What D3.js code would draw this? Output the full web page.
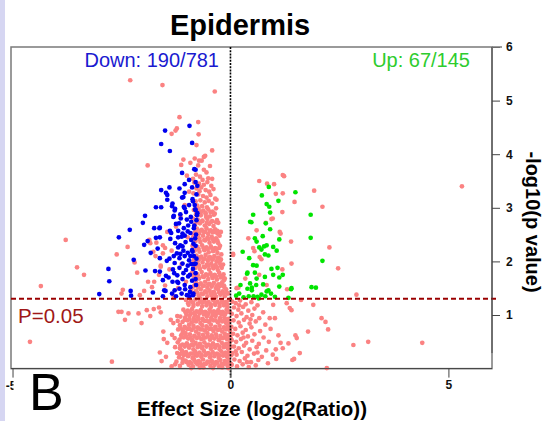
<!DOCTYPE html>
<html>
<head>
<meta charset="utf-8">
<script src="https://cdn.jsdelivr.net/npm/d3@7"></script>
<style>
  html, body { margin: 0; padding: 0; background: #fff; }
  svg { display: block; font-family: "Liberation Sans", Arial, sans-serif; }
</style>
</head>
<body>
<svg id="chart" width="543" height="421"></svg>
<script>
// Volcano plot: effect size (log2 ratio) against -log10(p value)

const chartTitle = "Epidermis";
const xLabel = "Effect Size (log2(Ratio))";
const yLabel = "-log10(p value)";
const downLabel = "Down: 190/781";
const upLabel = "Up: 67/145";
const thresholdLabel = "P=0.05";
const panelLetter = "B";

const xTicks = [-5, 0, 5];
const yTicks = [1, 2, 3, 4, 5, 6];
const pThreshold = 0.05;

// [effect size, -log10 p] for genes significantly down-regulated
const downGenes = [
  [-1.50,4.44],[-0.94,4.53],[-1.59,4.19],[-0.88,4.21],[-1.39,4.06],[-0.83,3.72],[-0.80,3.71],[-1.11,3.65],
  [-0.80,3.48],[-1.05,3.44],[-0.95,3.52],[-0.76,3.41],[-1.40,3.38],[-1.59,3.33],[-1.48,3.28],[-1.45,3.24],
  [-1.17,3.36],[-1.11,3.19],[-1.08,3.20],[-0.87,3.16],[-1.33,3.08],[-1.34,3.03],[-1.71,3.01],[-1.59,3.01],
  [-1.27,2.98],[-1.07,3.02],[-1.05,2.99],[-0.82,3.05],[-0.81,2.97],[-0.76,2.90],[-1.96,2.85],[-2.01,2.72],
  [-1.31,2.83],[-1.30,2.85],[-1.14,2.80],[-0.91,2.83],[-0.78,2.77],[-1.18,2.71],[-1.07,2.62],[-0.97,2.67],
  [-0.84,2.62],[-2.31,2.59],[-1.63,2.62],[-1.62,2.63],[-1.39,2.57],[-1.36,2.53],[-1.20,2.57],[-1.12,2.46],
  [-1.05,2.48],[-0.92,2.53],[-0.81,2.43],[-2.56,2.45],[-1.90,2.38],[-1.71,2.44],[-1.98,2.31],[-1.67,2.24],
  [-1.27,2.34],[-1.20,2.26],[-1.23,2.15],[-1.10,2.28],[-1.08,2.20],[-0.98,2.16],[-0.88,2.21],[-0.80,2.29],
  [-1.83,2.16],[-1.62,2.06],[-1.17,2.06],[-0.92,2.10],[-0.84,2.10],[-2.22,2.03],[-1.46,2.01],[-1.28,1.97],
  [-1.10,1.96],[-0.98,1.92],[-0.90,1.95],[-0.80,1.96],[-2.80,1.86],[-1.95,1.83],[-1.73,1.82],[-1.62,1.81],
  [-1.29,1.78],[-1.22,1.74],[-1.08,1.78],[-0.93,1.75],[-0.80,1.78],[-2.78,1.63],[-1.48,1.73],[-1.22,1.62],
  [-1.10,1.67],[-0.88,1.64],[-0.80,1.67],[-2.29,1.45],[-1.78,1.42],[-1.52,1.46],[-1.49,1.45],[-1.34,1.40],
  [-1.28,1.46],[-1.17,1.49],[-1.04,1.48],[-0.93,1.43],[-3.01,1.39],[-2.28,1.36],[-1.55,1.35],[-0.94,1.35],
  [-0.86,1.37],
  [-0.78,3.25],[-0.86,3.12],[-0.95,3.05],[-1.02,2.92],[-0.77,2.86],[-0.90,2.74],[-1.15,2.88],[-0.83,2.67],
  [-0.98,2.56],[-1.25,2.70],[-0.79,2.50],[-0.90,2.40],[-1.03,2.36],[-1.15,2.30],[-0.85,2.33],[-0.78,2.05],
  [-0.95,2.02],[-1.05,2.10],[-1.15,2.14],[-1.30,2.10],[-0.86,1.86],[-1.02,1.84],[-1.17,1.88],[-0.79,1.56],
  [-0.92,1.52],[-1.05,1.56],[-1.20,1.60],[-1.33,1.62],[-0.85,1.40],[-1.00,1.37],[-1.12,1.40],[-1.25,1.35],
  [-0.88,3.38],[-1.05,3.28],[-0.80,2.96],[-1.20,2.45],[-1.38,2.42],[-0.87,2.18],[-1.10,2.52],[-0.97,1.72],
  [-1.32,1.85],[-1.42,1.70],[-0.83,1.95],[-1.00,2.78],[-1.28,2.95],[-1.45,3.15],[-1.40,2.05],[-1.55,1.65],
  [-1.62,2.45],[-1.75,2.62]
];

// [effect size, -log10 p] for genes significantly up-regulated
const upGenes = [
  [0.88,3.39],[1.49,3.29],[0.72,3.23],[1.10,3.13],[0.83,3.07],[0.89,3.02],[0.91,2.91],[0.52,2.87],
  [1.84,2.87],[0.45,2.74],[0.48,2.73],[0.81,2.71],[0.91,2.60],[1.84,2.44],[0.56,2.43],[0.74,2.47],
  [1.12,2.41],[0.60,2.37],[0.83,2.30],[0.66,2.26],[0.71,2.22],[0.77,2.28],[0.98,2.27],[0.28,2.18],
  [0.79,2.13],[0.87,2.11],[1.06,2.20],[0.43,2.06],[0.52,1.93],[0.60,1.92],[2.11,2.01],[0.94,1.86],
  [1.08,1.88],[0.39,1.79],[0.38,1.77],[0.56,1.79],[0.98,1.75],[1.20,1.75],[1.12,1.70],[0.79,1.71],
  [0.60,1.68],[0.45,1.59],[0.59,1.56],[0.23,1.56],[1.12,1.53],[1.40,1.50],[1.39,1.48],[1.86,1.52],
  [1.96,1.51],[0.39,1.49],[0.49,1.51],[0.83,1.44],[0.93,1.40],[0.71,1.38],[0.13,1.36],[0.42,1.35],
  [0.53,1.35],[0.62,1.34],[0.80,1.35],[1.33,1.32],[0.87,1.46],[0.49,1.46],[0.30,1.33],[0.65,1.31],
  [1.02,1.34],[0.20,1.40],[0.75,1.57]
];

// [effect size, -log10 p] for all remaining genes, down side
const otherDown = [
  [-2.30,5.38],[-1.56,5.29],[-0.36,5.17],[-1.17,4.69],[-1.23,4.48],[-1.26,4.44],[-1.35,4.38],[-0.74,4.60],
  [-0.73,4.37],[-0.78,4.17],[-0.42,4.07],[-1.90,3.79],[-1.13,3.80],[-0.92,3.84],[-0.72,3.88],[-0.61,3.95],
  [-3.78,2.40],[-3.52,1.89],[-3.36,1.75],[-2.36,2.27],[-2.61,2.13],[-2.20,1.98],[-1.86,2.40],[-1.84,2.34],
  [-2.14,1.79],[-2.47,1.47],[-2.50,1.40],[-2.08,1.37],[-1.98,1.45],[-1.89,1.62],[-1.80,1.52],[-1.75,1.62],
  [-1.64,1.75],[-1.60,1.92],[-1.72,2.10],[-1.77,2.18],[-1.70,2.35],[-1.55,2.15],[-1.50,2.25],
  [-0.42,3.54],[-0.32,3.15],[-0.22,2.55],[-0.15,1.65],[0.06,2.14],
  [-4.35,1.54],[-4.60,0.50],[-2.72,0.13],[-2.57,1.06],[-2.50,1.06],[-2.34,1.03],[-2.42,0.91],[-2.11,1.03],
  [-2.04,0.85],[-1.92,1.09],[-1.84,0.98],[-1.76,1.11],[-1.54,0.69],[-1.53,0.55],[-1.64,1.14],[-1.60,1.05],
  [-1.37,0.91],[-1.31,0.85],[-1.22,0.98],[-1.16,0.38],[-1.10,0.66],[-1.10,0.18],[-1.35,0.04],[-0.98,0.24],
  [-1.02,0.31],[-0.95,0.75],[-0.88,0.52],[-0.70,0.02],[-0.80,0.26],[-0.85,0.20],
  [-1.05,3.05],[-1.15,2.85],[-0.98,2.45],[-1.25,2.65],[-1.35,2.20],[-1.12,1.95],[-1.02,1.62],[-1.40,1.85],
  [-1.20,1.50],[-0.95,3.30],[-1.00,3.60],[-1.08,3.90],[-1.30,1.35],[-1.50,1.55],[-1.60,1.90],[-1.55,2.30],
  [-1.45,2.55],
  [-0.82,3.92],[-0.66,3.88],[-0.58,3.97],[-0.74,3.79],[-0.61,3.71],[-0.79,3.62],[-0.55,3.66],[-0.70,3.58],
  [-0.64,3.52],[-0.51,3.55],[-0.86,3.54],[-0.47,3.78],
  [-0.83,3.47],[-0.72,3.45],[-0.61,3.43],[-0.53,3.48],[-0.44,3.41],[-0.78,3.36],[-0.67,3.38],[-0.57,3.33],
  [-0.49,3.30],[-0.39,3.35],[-0.85,3.27],[-0.74,3.25],[-0.63,3.22],[-0.55,3.19],[-0.46,3.24],[-0.69,3.14],
  [-0.80,3.12],[-0.59,3.10],[-0.50,3.13],[-0.42,3.08],[-0.35,3.17],[-0.76,3.04],[-0.65,3.03],[-0.54,3.01],
  [-0.71,3.31],
  [-0.84,2.96],[-0.73,2.98],[-0.62,2.95],[-0.51,2.97],[-0.41,2.93],[-0.33,2.99],[-0.79,2.88],[-0.68,2.86],
  [-0.57,2.89],[-0.47,2.84],[-0.38,2.87],[-0.86,2.80],[-0.75,2.78],[-0.64,2.76],[-0.53,2.79],[-0.44,2.74],
  [-0.31,2.77],[-0.81,2.69],[-0.70,2.71],[-0.59,2.67],[-0.49,2.70],[-0.39,2.66],[-0.28,2.72],[-0.77,2.61],
  [-0.66,2.59],[-0.55,2.62],[-0.45,2.58],[-0.35,2.60],[-0.83,2.53],[-0.72,2.52],[-0.61,2.55],[-0.51,2.51],
  [-0.41,2.54],[-0.30,2.52],[-0.68,2.92],[-0.56,2.83],
  [-0.85,2.47],[-0.74,2.45],[-0.63,2.48],[-0.53,2.44],[-0.43,2.46],[-0.33,2.43],[-0.25,2.48],[-0.80,2.38],
  [-0.69,2.36],[-0.58,2.39],[-0.48,2.35],[-0.38,2.37],[-0.28,2.34],[-0.87,2.29],[-0.76,2.27],[-0.65,2.30],
  [-0.55,2.26],[-0.45,2.28],[-0.35,2.25],[-0.24,2.29],[-0.82,2.20],[-0.71,2.18],[-0.60,2.21],[-0.50,2.17],
  [-0.40,2.19],[-0.30,2.16],[-0.78,2.11],[-0.67,2.09],[-0.57,2.12],[-0.47,2.08],[-0.37,2.10],[-0.27,2.07],
  [-0.21,2.13],[-0.84,2.03],[-0.73,2.02],[-0.62,2.04],[-0.52,2.01],[-0.42,2.03],[-0.32,2.00],[-0.23,2.02],
  [-0.86,1.97],[-0.75,1.95],[-0.64,1.98],[-0.54,1.94],[-0.44,1.96],[-0.34,1.93],[-0.25,1.97],[-0.17,1.94],
  [-0.80,1.88],[-0.70,1.86],[-0.59,1.89],[-0.49,1.85],[-0.39,1.87],[-0.29,1.84],[-0.20,1.88],[-0.88,1.79],
  [-0.77,1.77],[-0.66,1.80],[-0.56,1.76],[-0.46,1.78],[-0.36,1.75],[-0.26,1.79],[-0.16,1.76],[-0.83,1.70],
  [-0.72,1.68],[-0.61,1.71],[-0.51,1.67],[-0.41,1.69],[-0.31,1.66],[-0.22,1.70],[-0.13,1.68],[-0.79,1.61],
  [-0.68,1.59],[-0.58,1.62],[-0.48,1.58],[-0.38,1.60],[-0.28,1.57],[-0.19,1.61],[-0.85,1.53],[-0.74,1.52],
  [-0.63,1.54],[-0.53,1.51],[-0.43,1.53],[-0.33,1.50],[-0.24,1.54],[-0.14,1.52],
  [-0.90,1.47],[-0.79,1.45],[-0.68,1.48],[-0.58,1.44],[-0.48,1.46],[-0.38,1.43],[-0.28,1.47],[-0.18,1.44],
  [-0.10,1.48],[-0.84,1.38],[-0.73,1.36],[-0.63,1.39],[-0.53,1.35],[-0.43,1.37],[-0.33,1.34],[-0.23,1.38],
  [-0.13,1.35],[-0.95,1.32],[-0.69,1.31],[-0.41,1.31],[-0.06,1.40],
  [-1.02,1.28],[-0.91,1.26],[-0.80,1.29],[-0.70,1.25],[-0.60,1.27],[-0.50,1.24],[-0.40,1.28],[-0.30,1.25],
  [-0.20,1.27],[-0.11,1.24],[-0.04,1.28],[-0.96,1.19],[-0.85,1.17],[-0.75,1.20],[-0.65,1.16],[-0.55,1.18],
  [-0.45,1.15],[-0.35,1.19],[-0.25,1.16],[-0.15,1.18],[-0.07,1.15],[-1.08,1.10],[-0.98,1.08],[-0.88,1.11],
  [-0.78,1.07],[-0.68,1.09],[-0.58,1.06],[-0.48,1.10],[-0.38,1.07],[-0.28,1.09],[-0.18,1.06],[-0.09,1.10],
  [-0.02,1.07],[-1.01,1.01],[-0.91,1.02],[-0.81,1.00],[-0.71,1.03],[-0.61,1.01],[-0.51,1.02],[-0.41,1.00],
  [-0.31,1.03],[-0.21,1.01],[-0.12,1.02],
  [-1.15,0.97],[-1.04,0.95],[-0.94,0.98],[-0.84,0.94],[-0.74,0.96],[-0.64,0.93],[-0.54,0.97],[-0.44,0.95],
  [-0.34,0.98],[-0.24,0.94],[-0.14,0.96],[-0.05,0.93],
  [-1.21,0.89],[-1.10,0.87],[-0.99,0.90],[-0.89,0.86],[-0.79,0.88],[-0.69,0.85],[-0.59,0.89],[-0.49,0.87],
  [-0.39,0.90],[-0.29,0.86],[-0.19,0.88],[-0.10,0.85],[-0.02,0.89],
  [-1.16,0.81],[-1.05,0.78],[-0.95,0.82],[-0.85,0.80],[-0.75,0.77],[-0.65,0.81],[-0.55,0.79],
  [-0.45,0.82],[-0.35,0.78],[-0.25,0.80],[-0.15,0.77],[-0.06,0.81],
  [-1.20,0.73],[-1.09,0.70],[-0.99,0.74],[-0.89,0.72],[-0.79,0.69],[-0.69,0.73],[-0.59,0.71],
  [-0.49,0.74],[-0.39,0.70],[-0.29,0.72],[-0.19,0.69],[-0.10,0.73],[-0.01,0.71],
  [-1.34,0.63],[-1.13,0.62],[-1.03,0.66],[-0.93,0.64],[-0.83,0.61],[-0.73,0.65],[-0.63,0.63],
  [-0.53,0.66],[-0.43,0.62],[-0.33,0.64],[-0.23,0.61],[-0.13,0.65],[-0.04,0.63],
  [-1.28,0.57],[-1.17,0.54],[-1.07,0.58],[-0.97,0.56],[-0.87,0.53],[-0.77,0.57],[-0.67,0.55],
  [-0.57,0.58],[-0.47,0.54],[-0.37,0.56],[-0.27,0.53],[-0.17,0.57],[-0.08,0.55],[0.00,0.58],
  [-1.45,0.48],[-1.21,0.49],[-1.10,0.45],[-1.00,0.47],[-0.90,0.44],[-0.80,0.48],[-0.70,0.46],
  [-0.60,0.49],[-0.50,0.45],[-0.40,0.47],[-0.30,0.44],[-0.20,0.48],[-0.10,0.46],[-0.02,0.49],
  [-1.27,0.40],[-1.15,0.37],[-1.05,0.41],[-0.95,0.39],[-0.85,0.36],[-0.75,0.40],[-0.65,0.38],
  [-0.55,0.41],[-0.45,0.37],[-0.35,0.39],[-0.25,0.36],[-0.15,0.40],[-0.06,0.38],[0.01,0.41],
  [-1.62,0.30],[-1.22,0.29],[-1.11,0.33],[-0.91,0.28],[-0.81,0.32],[-0.71,0.30],[-0.61,0.33],
  [-0.51,0.29],[-0.41,0.31],[-0.31,0.28],[-0.21,0.32],[-0.11,0.30],[-0.03,0.33],
  [-1.48,0.22],[-1.18,0.21],[-1.07,0.25],[-0.97,0.23],[-0.87,0.20],[-0.77,0.24],[-0.67,0.22],
  [-0.57,0.25],[-0.47,0.21],[-0.37,0.23],[-0.27,0.20],[-0.17,0.24],[-0.08,0.22],[0.02,0.25],
  [-1.58,0.14],[-1.24,0.13],[-1.03,0.15],[-0.93,0.12],[-0.83,0.16],[-0.73,0.14],[-0.63,0.17],
  [-0.53,0.13],[-0.43,0.15],[-0.33,0.12],[-0.23,0.16],[-0.13,0.14],[-0.04,0.17],
  [-1.27,0.08],[-1.16,0.05],[-0.96,0.07],[-0.86,0.04],[-0.76,0.08],[-0.66,0.06],[-0.56,0.09],
  [-0.46,0.05],[-0.36,0.07],[-0.26,0.04],[-0.16,0.08],[-0.07,0.06],[0.01,0.09],
  [-0.90,0.01],[-0.62,0.02],[-0.40,0.01],[-0.19,0.02],[-0.05,0.01]
];

// further genes packed into the dense core of the down side
const otherDownCore = [
  [-0.78,2.91],[-0.67,2.93],[-0.57,2.90],[-0.46,2.92],[-0.36,2.89],
  [-0.78,2.74],[-0.65,2.75],[-0.54,2.72],[-0.42,2.75],[-0.33,2.73],
  [-0.80,2.56],[-0.69,2.57],[-0.58,2.55],[-0.48,2.57],[-0.38,2.55],[-0.30,2.57],
  [-0.82,2.41],[-0.71,2.42],[-0.60,2.40],[-0.50,2.42],[-0.40,2.41],[-0.30,2.39],
  [-0.84,2.24],[-0.73,2.23],[-0.62,2.25],[-0.52,2.23],[-0.42,2.24],[-0.32,2.22],[-0.26,2.25],
  [-0.81,2.06],[-0.70,2.07],[-0.59,2.05],[-0.49,2.07],[-0.39,2.05],[-0.29,2.06],[-0.22,2.04],
  [-0.83,1.91],[-0.72,1.92],[-0.61,1.90],[-0.51,1.92],[-0.41,1.91],[-0.31,1.89],[-0.22,1.92],
  [-0.85,1.73],[-0.75,1.74],[-0.64,1.72],[-0.53,1.74],[-0.43,1.73],[-0.33,1.71],[-0.24,1.74],[-0.17,1.72],
  [-0.82,1.56],[-0.71,1.57],[-0.61,1.55],[-0.51,1.57],[-0.41,1.56],[-0.31,1.54],[-0.22,1.57],[-0.15,1.55],
  [-0.87,1.41],[-0.76,1.42],[-0.66,1.40],[-0.56,1.42],[-0.46,1.41],[-0.36,1.39],[-0.26,1.42],[-0.16,1.40],[-0.08,1.42],
  [-0.97,1.22],[-0.86,1.23],[-0.75,1.21],[-0.65,1.23],[-0.55,1.22],[-0.45,1.20],[-0.35,1.23],[-0.25,1.21],[-0.16,1.22],[-0.07,1.20],
  [-1.03,1.05],[-0.93,1.06],[-0.83,1.04],[-0.73,1.06],[-0.63,1.05],[-0.53,1.03],[-0.43,1.06],[-0.33,1.04],[-0.23,1.05],[-0.14,1.03],[-0.05,1.06],
  [-1.05,0.91],[-0.94,0.92],[-0.84,0.90],[-0.74,0.92],[-0.64,0.91],[-0.54,0.89],[-0.44,0.92],[-0.34,0.90],[-0.24,0.91],[-0.14,0.89],[-0.06,0.92],
  [-1.14,0.75],[-1.04,0.76],[-0.94,0.74],[-0.84,0.76],[-0.74,0.75],[-0.64,0.73],[-0.54,0.76],[-0.44,0.74],[-0.34,0.75],[-0.24,0.73],[-0.14,0.76],[-0.05,0.74],
  [-1.12,0.59],[-1.02,0.60],[-0.92,0.58],[-0.82,0.60],[-0.72,0.59],[-0.62,0.57],[-0.52,0.60],[-0.42,0.58],[-0.32,0.59],[-0.22,0.57],[-0.12,0.60],[-0.03,0.58],
  [-1.15,0.43],[-1.05,0.44],[-0.95,0.42],[-0.85,0.44],[-0.75,0.43],[-0.65,0.41],[-0.55,0.44],[-0.45,0.42],[-0.35,0.43],[-0.25,0.41],[-0.15,0.44],[-0.05,0.42],
  [-1.16,0.27],[-1.06,0.28],[-0.96,0.26],[-0.86,0.28],[-0.76,0.27],[-0.66,0.25],[-0.56,0.28],[-0.46,0.26],[-0.36,0.27],[-0.26,0.25],[-0.16,0.28],[-0.07,0.26],[0.01,0.27],
  [-1.10,0.11],[-1.00,0.12],[-0.90,0.10],[-0.80,0.12],[-0.70,0.11],[-0.60,0.09],[-0.50,0.12],[-0.40,0.10],[-0.30,0.11],[-0.20,0.09],[-0.10,0.12],[-0.02,0.10]
];

// [effect size, -log10 p] for all remaining genes, up side
const otherUp = [
  [5.31,3.40],[1.20,3.61],[1.23,3.59],[0.66,3.50],[1.00,3.44],[0.84,3.45],[1.92,3.32],[1.04,3.26],
  [1.20,3.27],[1.47,3.11],[2.11,3.02],[1.19,2.92],[0.97,2.80],[0.94,2.79],[0.81,2.72],[0.60,2.58],
  [0.41,2.43],[1.13,2.55],[1.15,2.52],[1.39,2.37],[2.27,2.26],[2.47,1.87],[0.52,2.25],[0.55,2.19],
  [1.40,1.96],[0.67,2.08],[0.71,2.04],[0.06,2.12],[1.19,1.85],[0.66,1.75],[0.34,1.68],[0.14,1.50],
  [0.18,1.51],[0.83,1.56],[1.30,1.48],
  [2.89,1.38],[1.90,1.19],[2.09,0.94],[2.18,0.87],[2.24,0.73],[1.78,0.69],[2.82,0.44],[3.16,0.50],
  [4.40,0.48],[2.21,0.01],[1.59,0.29],[1.52,0.57],[1.49,0.62],[1.33,0.47],[1.46,0.18],[1.42,0.16],
  [1.40,1.09],[1.36,1.13],[1.02,0.94],[0.90,0.94],[1.04,0.36],[1.29,1.22],[0.98,1.19],[1.62,1.28],
  [0.04,1.25],[0.12,1.22],[0.22,1.27],[0.35,1.20],[0.48,1.24],[0.62,1.18],[0.08,1.14],[0.18,1.10],
  [0.29,1.15],[0.41,1.08],[0.55,1.12],[0.75,1.05],[0.03,1.02],[0.14,0.98],[0.25,1.03],[0.37,0.96],
  [0.50,1.00],[0.66,0.94],[0.07,0.90],[0.19,0.86],[0.31,0.91],[0.44,0.84],[0.58,0.88],[0.80,0.82],
  [0.02,0.78],[0.11,0.74],[0.23,0.79],[0.35,0.72],[0.48,0.77],[0.68,0.70],[0.92,0.74],[0.06,0.65],
  [0.16,0.62],[0.28,0.67],[0.40,0.60],[0.55,0.64],[0.76,0.58],[1.10,0.62],[0.03,0.53],[0.13,0.50],
  [0.24,0.55],[0.36,0.48],[0.50,0.52],[0.65,0.46],[0.88,0.50],[0.08,0.41],[0.19,0.38],[0.31,0.43],
  [0.44,0.36],[0.60,0.40],[0.82,0.34],[1.20,0.38],[0.04,0.29],[0.14,0.26],[0.26,0.31],[0.39,0.24],
  [0.54,0.28],[0.72,0.22],[0.97,0.26],[0.09,0.17],[0.21,0.14],[0.33,0.19],[0.47,0.12],[0.64,0.16],
  [0.86,0.10],[0.03,0.07],[0.15,0.04],[0.28,0.08],[0.42,0.03],[0.58,0.06],[0.12,0.32],[0.30,0.58],
  [0.46,0.92],[0.20,1.18],[0.62,0.30],[0.38,0.12],[1.05,0.18],[1.15,0.48]
];

const colors = { other: "#fb8282", down: "#0000ee", up: "#00e400" };

const svg = d3.select("#chart");

const x = d3.scaleLinear().domain([-5.035, 6]).range([11, 492]);
const y = d3.scaleLinear().domain([0, 6]).range([368.6, 47]);

// narrow side strip of the figure page
svg.append("rect").attr("x", 0).attr("y", 0).attr("width", 5).attr("height", 421).attr("fill", "#d6d6f2");

// plot frame
svg.append("rect")
  .attr("x", x.range()[0]).attr("y", y.range()[1])
  .attr("width", x.range()[1] - x.range()[0]).attr("height", y.range()[0] - y.range()[1])
  .attr("fill", "none").attr("stroke", "#7a7a7a").attr("stroke-width", 1.5);

// points
const r = 2.35;
function drawPoints(data, color) {
  svg.append("g").selectAll("circle").data(data).join("circle")
    .attr("cx", d => x(d[0])).attr("cy", d => y(d[1])).attr("r", r).attr("fill", color);
}
drawPoints(otherDown, colors.other);
drawPoints(otherDownCore, colors.other);
drawPoints(otherUp, colors.other);
drawPoints(downGenes, colors.down);
drawPoints(upGenes, colors.up);

// zero effect reference line
svg.append("line")
  .attr("x1", x(0)).attr("x2", x(0)).attr("y1", y(6)).attr("y2", y(0) + 9)
  .attr("stroke", "#000").attr("stroke-width", 1.6).attr("stroke-dasharray", "2,1.2");

// significance threshold
const yThr = y(-Math.log10(pThreshold));
svg.append("line")
  .attr("x1", x.range()[0]).attr("x2", x.range()[1] + 5).attr("y1", yThr).attr("y2", yThr)
  .attr("stroke", "#9a0000").attr("stroke-width", 2).attr("stroke-dasharray", "5,3");

// bottom axis (the leftmost label is drawn separately, cut at the page edge)
const xAxis = svg.append("g").attr("transform", `translate(0,${y(0)})`)
  .call(d3.axisBottom(x).tickValues(xTicks).tickSize(9).tickPadding(3)
    .tickFormat(d => d < x.domain()[0] + 0.1 ? "" : String(d)));
xAxis.select(".domain").attr("d", `M${x.range()[0]},0H${x.range()[1]}`).attr("stroke", "#444");
xAxis.selectAll(".tick line").attr("stroke", "#444");
xAxis.selectAll("text").attr("font-size", 12).attr("font-weight", "bold").attr("fill", "#111")
  .attr("font-family", "Liberation Sans, Arial, sans-serif");

svg.append("clipPath").attr("id", "leftClip")
  .append("rect").attr("x", 0).attr("y", 370).attr("width", 13.5).attr("height", 30);
svg.append("text").attr("x", x(xTicks[0]) - 1.5).attr("y", y(0) + 21).attr("text-anchor", "middle")
  .attr("clip-path", "url(#leftClip)")
  .attr("font-size", 12).attr("font-weight", "bold").attr("fill", "#111").text(String(xTicks[0]));

// right axis
const yAxis = svg.append("g").attr("transform", `translate(${x.range()[1]},0)`)
  .call(d3.axisRight(y).tickValues(yTicks).tickSize(8).tickPadding(6).tickFormat(d3.format("d")));
yAxis.select(".domain").attr("d", `M0,${y(6)}V${y(0.29)}`).attr("stroke", "#444");
yAxis.selectAll(".tick line").attr("stroke", "#444");
yAxis.selectAll("text").attr("font-size", 12).attr("font-weight", "bold").attr("fill", "#111")
  .attr("font-family", "Liberation Sans, Arial, sans-serif");

// top extension of the frame at the upper tick
svg.append("line").attr("x1", x.range()[1]).attr("x2", x.range()[1] + 10)
  .attr("y1", y(6)).attr("y2", y(6)).attr("stroke", "#7a7a7a").attr("stroke-width", 1.5);

// texts
svg.append("text").attr("x", 240).attr("y", 35).attr("text-anchor", "middle")
  .attr("font-size", 29).attr("font-weight", "bold").attr("fill", "#000").text(chartTitle);

svg.append("text").attr("x", 219).attr("y", 67).attr("text-anchor", "end")
  .attr("font-size", 20).attr("fill", "#1a1ad0").text(downLabel);
svg.append("text").attr("x", 470).attr("y", 67).attr("text-anchor", "end")
  .attr("font-size", 20).attr("fill", "#2ecc2e").text(upLabel);

svg.append("text").attr("x", 18).attr("y", 323)
  .attr("font-size", 20.5).attr("fill", "#a01818").text(thresholdLabel);

svg.append("text").attr("x", 252).attr("y", 416).attr("text-anchor", "middle")
  .attr("font-size", 20.5).attr("font-weight", "bold").attr("fill", "#000").text(xLabel);

svg.append("text").attr("transform", "translate(526,222) rotate(90)").attr("text-anchor", "middle")
  .attr("font-size", 20).attr("font-weight", "bold").attr("fill", "#000").text(yLabel);

svg.append("text").attr("x", 29).attr("y", 410)
  .attr("font-size", 52).attr("fill", "#000").text(panelLetter);
</script>
</body>
</html>
